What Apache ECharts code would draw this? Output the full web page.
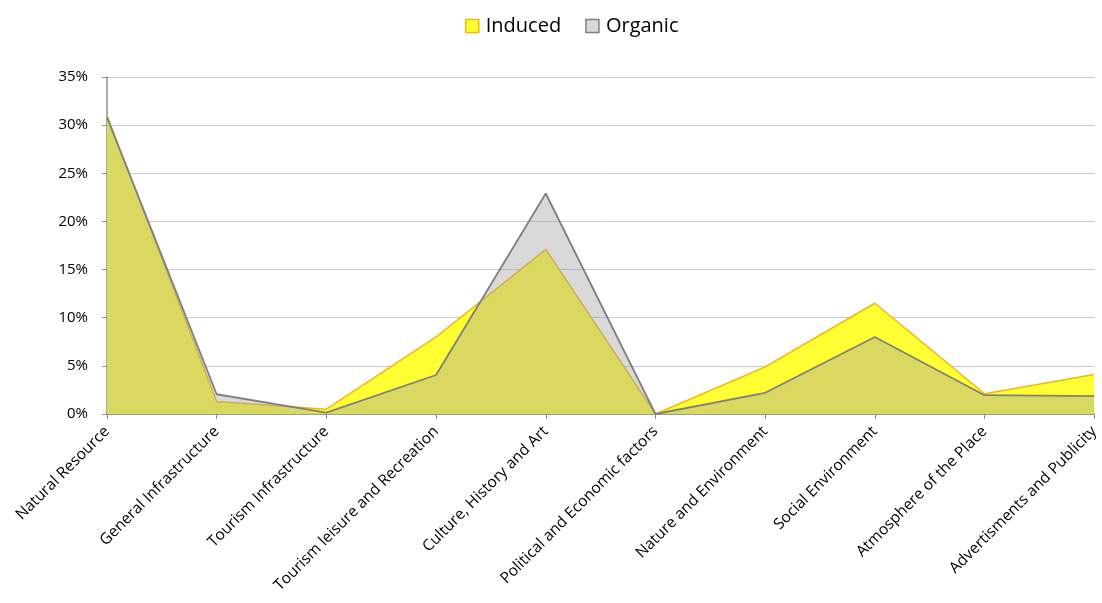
<!DOCTYPE html>
<html>
<head>
<meta charset="utf-8">
<script src="https://cdn.jsdelivr.net/npm/echarts@6/dist/echarts.min.js"></script>
<style>
  html, body { margin: 0; padding: 0; background: #fff; }
  #chart { width: 1102px; height: 603px; }
</style>
</head>
<body>
<div id="chart"></div>
<script>
// Image components by category (share of mentions, %)
const categories = [
  'Natural Resource',
  'General Infrastructure',
  'Tourism Infrastructure',
  'Tourism leisure and Recreation',
  'Culture, History and Art',
  'Political and Economic factors',
  'Nature and Environment',
  'Social Environment',
  'Atmosphere of the Place',
  'Advertisments and Publicity'
];
const induced = [31.0, 1.3, 0.5, 8.0, 17.1, 0.0, 4.9, 11.5, 2.1, 4.1];
const organic = [30.8, 2.05, 0.15, 4.05, 22.9, 0.0, 2.2, 8.0, 1.95, 1.85];
const yTicks = [0, 5, 10, 15, 20, 25, 30, 35];

const FONT = '"Open Sans", "Liberation Sans", sans-serif';

const chart = echarts.init(document.getElementById('chart'), null, { renderer: 'canvas' });
chart.setOption({
  animation: false,
  backgroundColor: '#ffffff',
  textStyle: { fontFamily: FONT },
  legend: {
    top: 11,
    left: 460,
    icon: 'rect',
    itemWidth: 13,
    itemHeight: 13,
    itemGap: 24,
    textStyle: { fontFamily: FONT, fontSize: 20, color: '#000', padding: [0, 0, 0, 2] },
    data: [
      { name: 'Induced', itemStyle: { color: '#FFFF33', borderColor: '#F5B800', borderWidth: 1.5 } },
      { name: 'Organic', itemStyle: { color: '#D9D9D9', borderColor: '#808080', borderWidth: 1.5 } }
    ]
  },
  grid: { left: 107, right: 5, top: 77, bottom: 189, containLabel: false },
  xAxis: {
    type: 'category',
    data: categories,
    boundaryGap: false,
    axisLine: { lineStyle: { color: '#8C8C8C', width: 1.5 } },
    axisTick: { show: true, length: 5, lineStyle: { color: '#8C8C8C' } },
    axisLabel: {
      interval: 0,
      rotate: 45,
      margin: 15,
      fontFamily: FONT,
      fontSize: 15.5,
      color: '#000'
    },
    splitLine: { show: false }
  },
  yAxis: {
    type: 'value',
    min: yTicks[0],
    max: yTicks[yTicks.length - 1],
    interval: 5,
    axisLine: { show: true, lineStyle: { color: '#8C8C8C', width: 1.5 } },
    axisTick: { show: true, length: 5, lineStyle: { color: '#8C8C8C' } },
    axisLabel: {
      fontFamily: FONT,
      fontSize: 15,
      color: '#000',
      margin: 19,
      formatter: v => v + '%'
    },
    splitLine: { show: true, lineStyle: { color: '#C8C8C8', width: 1 } }
  },
  series: [
    {
      name: 'Induced',
      type: 'line',
      data: induced,
      symbol: 'none',
      z: 2,
      itemStyle: { color: '#FFFF33' },
      lineStyle: { color: '#F5B800', width: 1.5 },
      areaStyle: { color: '#FFFF33', opacity: 1, origin: 'start' }
    },
    {
      name: 'Organic',
      type: 'line',
      data: organic,
      symbol: 'none',
      z: 3,
      itemStyle: { color: '#D9D9D9' },
      lineStyle: { color: '#808080', width: 1.8 },
      areaStyle: { color: 'rgb(162,162,162)', opacity: 0.41, origin: 'start' }
    }
  ]
});
</script>
</body>
</html>
